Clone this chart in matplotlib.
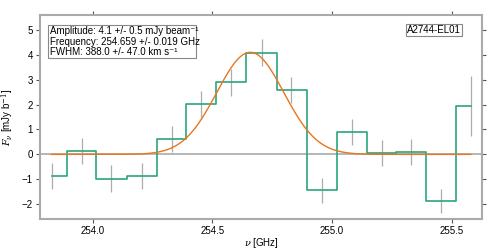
import numpy as np
import matplotlib
matplotlib.use("Agg")
import matplotlib.pyplot as plt

plt.rcParams['font.family'] = ['Liberation Sans', 'DejaVu Sans']
plt.rcParams['mathtext.fontset'] = 'dejavuserif'

# Channel frequencies (GHz) and flux densities (mJy/beam)
freq = [253.829, 253.954, 254.079, 254.205, 254.330, 254.454, 254.580, 254.706,
        254.831, 254.957, 255.082, 255.207, 255.332, 255.455, 255.580]
flux = [-0.87, 0.13, -0.97, -0.87, 0.61, 2.02, 2.89, 4.09,
        2.60, -1.45, 0.91, 0.07, 0.11, -1.88, 1.93]
err = [0.53, 0.53, 0.53, 0.53, 0.53, 0.53, 0.55, 0.53,
       0.52, 0.52, 0.52, 0.52, 0.52, 0.48, 1.2]

# Gaussian fit parameters
amp = 4.1
nu0 = 254.659
fwhm_kms = 388.0
label = 'A2744-EL01'
fit_lines = ["Amplitude: 4.1 +/- 0.5 mJy beam\u207b\u00b9",
             "Frequency: 254.659 +/- 0.019 GHz",
             "FWHM: 388.0 +/- 47.0 km s\u207b\u00b9"]

freq = np.array(freq)
flux = np.array(flux)
sigma = fwhm_kms / 299792.458 * nu0 / 2.3548
xx = np.linspace(freq[0], freq[-1], 400)
model = amp * np.exp(-0.5 * ((xx - nu0) / sigma) ** 2)

fig = plt.figure(figsize=(4.98, 2.49), dpi=100)
ax = fig.add_axes([0.080, 0.120, 0.888, 0.820])

ax.axhline(0, color='#aaaaaa', lw=1.2, zorder=1)
ax.errorbar(freq, flux, yerr=err, fmt='none', ecolor='#999999', elinewidth=0.9, alpha=0.8, zorder=2)
ax.step(freq, flux, where='mid', color='#2aa57e', lw=1.2, zorder=3)
ax.plot(xx, model, color='#e8761e', lw=1.0, zorder=4)

ax.set_xlim(253.78, 255.627)
ax.set_ylim(-2.6, 5.6)
ax.set_xticks([254.0, 254.5, 255.0, 255.5])
ax.set_yticks([-2, -1, 0, 1, 2, 3, 4, 5])
ax.set_xlabel(r'$\nu$ [GHz]', fontsize=7, labelpad=0)
ax.set_ylabel(r'$F_\nu$ [mJy b$^{-1}$]', fontsize=7, labelpad=4)

for s in ax.spines.values():
    s.set_color('#aaaaaa')
    s.set_linewidth(1.5)
ax.tick_params(which='both', direction='out', length=3, width=0.8, color='#555555',
               labelsize=7, top=True, right=True, labeltop=False, labelright=False, pad=2)

# fit results box, one line at a time so the spacing stays tight
bx0, by0 = 0.018, 0.951
box_h = 0.163
ax.add_patch(plt.Rectangle((bx0, by0 - box_h), 0.335, box_h, transform=ax.transAxes,
                           facecolor='white', edgecolor='#888888', lw=0.8, zorder=5))
for i, line in enumerate(fit_lines):
    ax.text(bx0 + 0.005, by0 - 0.030 - i * 0.052, line, transform=ax.transAxes, fontsize=7,
            va='center', ha='left', zorder=6)

ax.text(0.953, 0.951, label, transform=ax.transAxes, fontsize=7, va='top', ha='right',
        bbox=dict(facecolor='white', edgecolor='#888888', lw=0.8, boxstyle='square,pad=0.1'))

fig.savefig('out.png', dpi=100)
